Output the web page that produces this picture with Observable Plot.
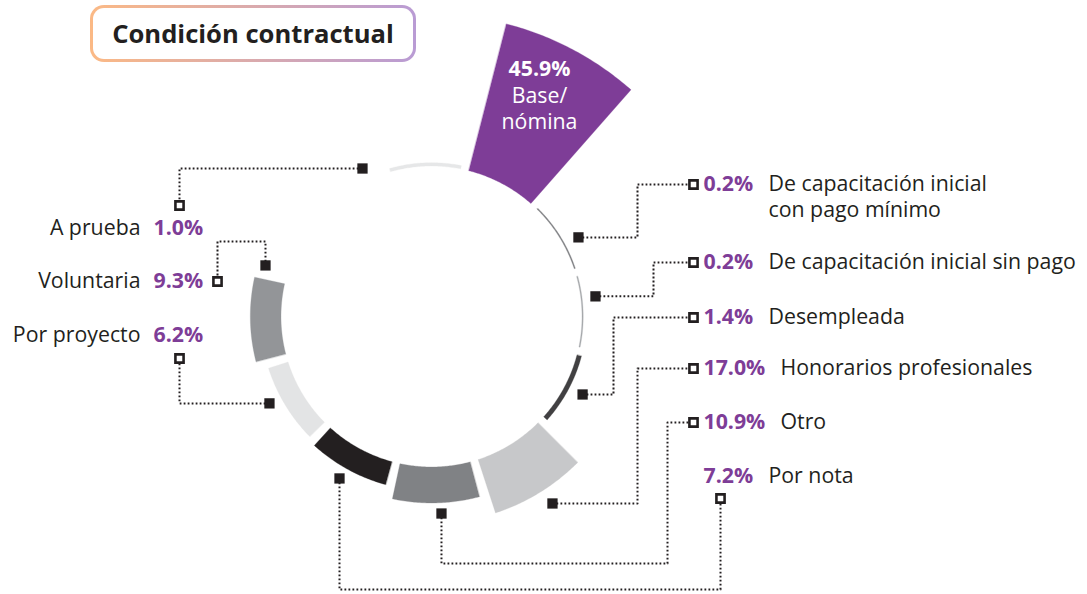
<!DOCTYPE html>
<html><head><meta charset="utf-8">
<script src="https://cdn.jsdelivr.net/npm/d3@7"></script>
<script src="https://cdn.jsdelivr.net/npm/@observablehq/plot@0.6"></script>
<style>
body{margin:0;background:#fff;font-family:"Open Sans",sans-serif;}
#wrap{position:relative;width:1087px;height:594px;overflow:hidden;}
#title{position:absolute;left:90px;top:5px;width:320px;height:51px;border:3px solid transparent;border-radius:14px;
background:linear-gradient(#fff,#fff) padding-box,linear-gradient(90deg,#fbb985,#b99bd4) border-box;
display:flex;align-items:center;justify-content:center;font-weight:700;font-size:25.6px;color:#231f20;font-family:"Open Sans",sans-serif;}
</style></head><body>
<div id="wrap"><div id="chart"></div><div id="title">Condición contractual</div></div>
<script>
// ---- data ----
const categories = ["A prueba","Base/nómina","De capacitación inicial con pago mínimo","De capacitación inicial sin pago","Desempleada","Honorarios profesionales","Otro","Por nota","Por proyecto","Voluntaria"];
const values = [1.0,45.9,0.2,0.2,1.4,17.0,10.9,7.2,6.2,9.3];
const valueLabels = ["1.0%","45.9%","0.2%","0.2%","1.4%","17.0%","10.9%","7.2%","6.2%","9.3%"];
const displayNames = ["A prueba","Base/\nnómina","De capacitación inicial\ncon pago mínimo","De capacitación inicial sin pago","Desempleada","Honorarios profesionales","Otro","Por nota","Por proyecto","Voluntaria"];
const colors = ["#e6e7e8","#7e3d97","#808285","#a7a9ac","#414042","#c7c8ca","#808285","#231f20","#e3e4e5","#939598"];

// ---- layout ----
const CX = 431, CY = 316, R0 = 150.5, K = 3.3, MINT = 1.2, STEP = 30.15, START = -2.3, SPAN = 27;
const PURPLE = "#7e3d97", INK = "#231f20", FS = 21.3;
const markerAngle = [-25, null, 61.7, 83, 117.3, 147.1, 177.1, 209.6, 241.8, 287.1];
const markerGap   = [9.5, null, 15.2, 13.5, 14.9, 16.1, 10.8, 12, 12.9, -7.5];
const routes = ["H179 V205", null, "H637 V184 H693", "H653 V262 H693", "H613 V317 H693", "H637 V368 H693",
                "V563 H667 V422 H693", "V589 H720 V498", "H179 V358", "V241 H217 V281"];
const labelSide = ["left","inside","right","right","right","right","right","right","left","left"];
const labelY = [228, 69, 184, 262, 317, 368, 422, 476, 335, 281];
const RIGHT_PCT_X = 703, LEFT_NAME_X = 140, LEFT_PCT_X = 153, LINE_H = 26, BASE_X = 539, BASE_GAP = 27;
const LH = LINE_H / FS, LH_SHIFT = (LINE_H - FS) * 0.32;

const rad = d => d * Math.PI / 180;
const pt = (aDeg, r) => [CX + r * Math.sin(rad(aDeg)), CY - r * Math.cos(rad(aDeg))];
const outerR = v => R0 + Math.max(K * v, MINT);

// arc polygons
const arcPts = [];
categories.forEach((c, i) => {
  const a = START + STEP * i, ro = outerR(values[i]), n = 48;
  const outer = d3.range(n + 1).map(j => pt(a - SPAN / 2 + SPAN * j / n, ro));
  const inner = d3.range(n + 1).map(j => pt(a + SPAN / 2 - SPAN * j / n, R0));
  [...outer, ...inner].forEach(([x, y]) => arcPts.push({cat: c, x, y, color: colors[i]}));
});

// leaders
const leaderPts = [], markers = [], ends = [];
categories.forEach((c, i) => {
  if (routes[i] == null) return;
  let [x, y] = pt(markerAngle[i], outerR(values[i]) + markerGap[i]);
  markers.push({x, y});
  leaderPts.push({cat: c, x, y});
  routes[i].split(" ").forEach(s => {
    const v = +s.slice(1);
    if (s[0] === "H") x = v; else y = v;
    leaderPts.push({cat: c, x, y});
  });
  ends.push({x, y});
});

// labels (multi-line names drawn as one text block, first line centred on the row)
const pctLabels = [], nameLabels = [], insideLabels = [];
categories.forEach((c, i) => {
  const n = displayNames[i].split("\n").length;
  if (labelSide[i] === "right") {
    pctLabels.push({x: RIGHT_PCT_X, y: labelY[i], t: valueLabels[i]});
    const nx = RIGHT_PCT_X + (valueLabels[i].length > 4 ? 77 : 65);
    nameLabels.push({x: nx, y: labelY[i] + (n - 1) * LINE_H / 2 - LH_SHIFT, t: displayNames[i], anchor: "start"});
  } else if (labelSide[i] === "left") {
    pctLabels.push({x: LEFT_PCT_X, y: labelY[i], t: valueLabels[i]});
    nameLabels.push({x: LEFT_NAME_X, y: labelY[i] - LH_SHIFT, t: displayNames[i], anchor: "end"});
  } else {
    insideLabels.push({x: BASE_X, y: labelY[i], t: valueLabels[i], w: 700});
    insideLabels.push({x: BASE_X, y: labelY[i] + BASE_GAP + (n - 1) * LINE_H / 2 - LH_SHIFT, t: displayNames[i], w: 400});
  }
});

const chart = Plot.plot({
  width: 1087, height: 594, margin: 0,
  x: {domain: [0, 1087], range: [0, 1087], axis: null},
  y: {domain: [0, 594], range: [0, 594], axis: null},
  style: {fontFamily: "'Open Sans', sans-serif", background: "#fff"},
  marks: [
    Plot.line(arcPts, {x: "x", y: "y", z: "cat", fill: "color", stroke: "color", strokeWidth: 0.3, curve: "linear-closed"}),
    Plot.line(leaderPts, {x: "x", y: "y", z: "cat", stroke: INK, strokeWidth: 2, strokeDasharray: "1.8 2.2", strokeLinecap: "butt"}),
    Plot.dot(markers, {x: "x", y: "y", symbol: "square", r: 5.8, fill: INK, stroke: "none"}),
    Plot.dot(ends, {x: "x", y: "y", symbol: "square", r: 4.6, fill: "#fff", stroke: INK, strokeWidth: 2.6}),
    Plot.text(pctLabels, {x: "x", y: "y", text: "t", textAnchor: "start", fill: PURPLE, fontWeight: 700, fontSize: FS}),
    Plot.text(nameLabels.filter(d => d.anchor === "start"), {x: "x", y: "y", text: "t", textAnchor: "start", fill: INK, fontSize: FS, lineHeight: LH}),
    Plot.text(nameLabels.filter(d => d.anchor === "end"), {x: "x", y: "y", text: "t", textAnchor: "end", fill: INK, fontSize: FS, lineHeight: LH}),
    Plot.text(insideLabels.filter(d => d.w === 700), {x: "x", y: "y", text: "t", fill: "#fff", fontWeight: 700, fontSize: FS}),
    Plot.text(insideLabels.filter(d => d.w === 400), {x: "x", y: "y", text: "t", fill: "#fff", fontSize: FS, lineHeight: LH})
  ]
});
document.getElementById("chart").appendChild(chart);
</script>
</body></html>
